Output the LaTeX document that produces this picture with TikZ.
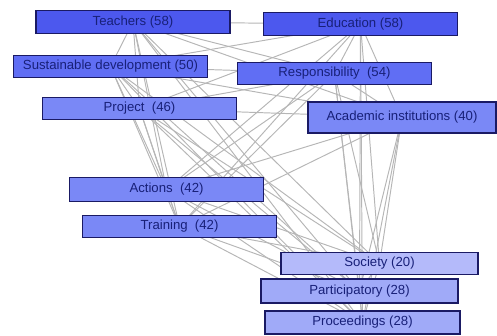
\documentclass[tikz,border=0pt]{standalone}
\usepackage{fontspec}
\setmainfont{Liberation Sans}
\usetikzlibrary{backgrounds}
\definecolor{kwdark}{RGB}{76,88,238}
\definecolor{kwmid}{RGB}{96,110,244}
\definecolor{kwlight}{RGB}{122,136,246}
\definecolor{kwpale}{RGB}{160,170,248}
\definecolor{kwpaler}{RGB}{180,186,250}
\definecolor{kwline}{RGB}{26,26,100}
\definecolor{kwtext}{RGB}{24,32,120}
\definecolor{link}{RGB}{182,182,182}
\tikzset{
  kw/.style={draw=kwline, line width=0.8pt, inner sep=0pt, minimum width=3.88cm,
    minimum height=0.45cm, text=kwtext, font=\fontsize{7.5}{8}\selectfont},
  tie/.style={draw=link, line width=0.55pt}
}
\begin{document}
\begin{tikzpicture}[x=0.02cm, y=-0.02cm]
  \useasboundingbox (0, 0) rectangle (497, 335);
  % keywords
  \node (tea) [kw, fill=kwdark] at (133, 22) {Teachers (58)};
  \node (edu) [kw, fill=kwdark] at (360.5, 24) {Education (58)};
  \node (sus) [kw, fill=kwmid] at (110.5, 66.5) {Sustainable development (50)};
  \node (res) [kw, fill=kwmid] at (334.5, 73.5) {Responsibility\ \ (54)};
  \node (pro) [kw, fill=kwlight] at (139.5, 108.5) {Project\ \ (46)};
  \node (aca) [kw, fill=kwlight, minimum width=3.76cm, minimum height=0.62cm] at (402, 117.5) {Academic institutions (40)};
  \node (act) [kw, fill=kwlight, minimum height=0.49cm] at (166.5, 189.5) {Actions\ \ (42)};
  \node (tra) [kw, fill=kwlight] at (179.5, 226.5) {Training\ \ (42)};
  \node (soc) [kw, fill=kwpaler, minimum width=3.94cm] at (379.5, 263.5) {Society (20)};
  \node (par) [kw, fill=kwpale, minimum width=3.94cm, minimum height=0.48cm] at (359.5, 291) {Participatory (28)};
  \node (prc) [kw, fill=kwpale, minimum width=3.9cm, minimum height=0.46cm] at (362.5, 322.5) {Proceedings (28)};
  % co-occurrence links
  \begin{scope}[on background layer]
    \foreach \a [count=\i] in {tea,edu,sus,res,pro,aca,act,tra,soc,par,prc}
      \foreach \b [count=\j] in {tea,edu,sus,res,pro,aca,act,tra,soc,par,prc}
        {\ifnum\j>\i \draw[tie] (\a.center) -- (\b.center); \fi}
  \end{scope}
\end{tikzpicture}
\end{document}
